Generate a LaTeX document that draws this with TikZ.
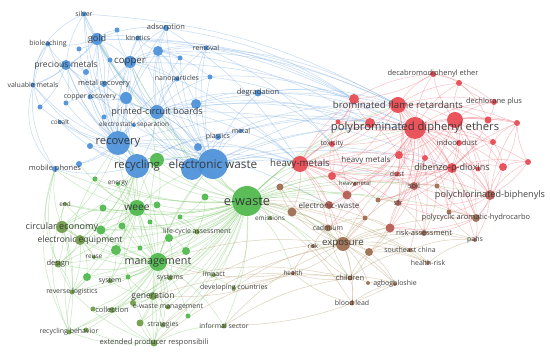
\documentclass[tikz,border=0pt]{standalone}
\usepackage{fontspec}
\setmainfont{Open Sans}
\pgfdeclarelayer{bg}
\pgfdeclarelayer{fg}
\pgfsetlayers{bg,main,fg}
\definecolor{cB}{HTML}{4A90D9}
\definecolor{cG}{HTML}{4CB84A}
\definecolor{cO}{HTML}{6E9A45}
\definecolor{cR}{HTML}{E8474F}
\definecolor{cN}{HTML}{9C6B4E}
\definecolor{cRB}{HTML}{B65A4F}
\definecolor{eB}{HTML}{74A9E2}
\definecolor{eG}{HTML}{7CC86A}
\definecolor{eR}{HTML}{EC7078}
\definecolor{eN}{HTML}{BDA67C}
\definecolor{txt}{HTML}{2E2E2E}
\tikzset{
  vnode/.style={circle,inner sep=0pt,fill opacity=0.92},
  lbl/.style={inner sep=0pt,text=txt,text opacity=0.9},
  edgeB/.style={draw=eB,line width=0.5pt,opacity=0.42},
  edgeG/.style={draw=eG,line width=0.5pt,opacity=0.42},
  edgeR/.style={draw=eR,line width=0.5pt,opacity=0.42},
  edgeN/.style={draw=eN,line width=0.5pt,opacity=0.5},
}
\newcommand\vn[7]{%
  \node[vnode,fill=#5,minimum size=#4pt] (#1) at (#2,#3) {};
  \pgfmathsetmacro\kwfs{#6*1.07}%
  \begin{pgfonlayer}{fg}\node[lbl,font=\fontsize{\kwfs}{\kwfs}\selectfont] (#1-l) at (#2,#3) {#7};\end{pgfonlayer}}
\newcommand\un[5]{\node[vnode,fill=#5,minimum size=#4pt] (#1) at (#2,#3) {};}
\begin{document}
\begin{tikzpicture}[x=1pt,y=-1pt]
\useasboundingbox (0,0) rectangle (550,355);
\begin{pgfonlayer}{bg}
\fill[white] (0,0) rectangle (550,355);
\end{pgfonlayer}
% ---------- blue cluster
\vn{silver}{84}{14}{5}{cB}{6.5}{silver}
\vn{adsorption}{166}{28}{6}{cB}{7}{adsorption}
\vn{bioleach}{48}{44}{5}{cB}{6.5}{bioleaching}
\vn{gold}{97}{39}{12}{cB}{8.5}{gold}
\vn{kinetics}{138}{38}{5}{cB}{6.5}{kinetics}
\vn{removal}{206}{48}{5}{cB}{6.5}{removal}
\un{b1}{117}{30}{5}{cB}
\un{b2}{158}{51}{10}{cB}
\un{b3}{79}{49}{5}{cB}
\vn{copper}{130}{62}{12}{cB}{9}{copper}
\vn{precious}{66}{65}{10}{cB}{8}{precious metals}
\un{b4}{110}{60}{5}{cB}
\un{b5}{86}{72}{6}{cB}
\un{b6}{180}{58}{5}{cB}
\vn{valuable}{33}{85}{5}{cB}{6.5}{valuable metals}
\vn{metalrec}{104}{84}{6}{cB}{7}{metal recovery}
\vn{nano}{177}{79}{5}{cB}{6.5}{nanoparticles}
\un{b7}{210}{77}{5}{cB}
\vn{degrad}{258}{93}{7}{cB}{7}{degradation}
\vn{copperrec}{90}{97}{5}{cB}{6.5}{copper recovery}
\un{b8}{126}{98}{12}{cB}
\un{b9}{196}{104}{10}{cB}
\un{b10}{40}{107}{5}{cB}
\un{b11}{66}{103}{5}{cB}
\vn{pcb}{157}{112}{14}{cB}{8.5}{printed-circuit boards}
\vn{cobalt}{60}{122}{4}{cB}{6}{cobalt}
\un{b12}{104}{117}{5}{cB}
\vn{electrostatic}{134}{125}{4}{cB}{6}{electrostatic separation}
\vn{metal}{241}{131}{4}{cB}{6.5}{metal}
\vn{plastics}{218}{137}{6}{cB}{6.5}{plastics}
\vn{recovery}{118}{143}{24}{cB}{10.5}{recovery}
\un{b13}{90}{146}{6}{cB}
\un{b14}{198}{147}{8}{cB}
\un{b16}{79}{164}{6}{cB}
\vn{mobile}{55}{169}{6}{cB}{7}{mobile phones}
\un{b15}{192}{169}{22}{cB}
\vn{recycling}{137}{166}{24}{cB}{10.5}{recycling}
\vn{ewaste2}{213}{164}{30}{cB}{11}{electronic waste}
% ---------- green cluster
\un{g1}{157}{160}{14}{cG}
\un{g2}{95}{179}{5}{cG}
\vn{energy}{118}{184}{4}{cG}{6}{energy}
\vn{end}{65}{204}{4}{cO}{6}{end}
\vn{ewaste}{247}{201}{30}{cG}{12}{e-waste}
\vn{emissions}{270}{218}{4}{cO}{6}{emissions}
\vn{weee}{137}{208}{16}{cG}{9.5}{weee}
\un{g3}{103}{208}{7}{cG}
\un{g4}{157}{205}{7}{cG}
\un{g5}{180}{217}{5}{cG}
\un{g6}{205}{197}{7}{cG}
\vn{circular}{62}{227}{12}{cO}{8.5}{circular economy}
\un{g7}{101}{230}{9}{cG}
\un{g8}{122}{226}{7}{cG}
\un{g9}{150}{222}{5}{cG}
\vn{lca}{197}{232}{5}{cO}{6.5}{life-cycle assessment}
\vn{eequip}{80}{240}{10}{cO}{8}{electronic equipment}
\un{g10}{169}{238}{8}{cG}
\un{g11}{116}{250}{10}{cG}
\un{g12}{140}{248}{5}{cG}
\un{g13}{186}{251}{8}{cG}
\vn{reuse}{94}{257}{4}{cO}{6}{reuse}
\vn{management}{158}{262}{18}{cG}{10}{management}
\vn{design}{58}{264}{7}{cO}{7}{design}
\un{g14}{87}{277}{8}{cG}
\un{g15}{128}{277}{5}{cG}
\vn{system}{110}{281}{5}{cO}{6.5}{system}
\vn{systems}{170}{278}{5}{cO}{6.5}{systems}
\vn{impact}{214}{275}{4}{cO}{6.5}{impact}
\vn{developing}{234}{288}{4}{cO}{6.5}{developing countries}
\vn{reverse}{72}{292}{5}{cO}{6.5}{reverse logistics}
\vn{generation}{153}{296}{8}{cO}{8}{generation}
\un{g16}{93}{309}{5}{cO}
\vn{collection}{112}{310}{6}{cO}{7}{collection}
\un{g17}{133}{303}{6}{cO}
\vn{ewm}{168}{307}{5}{cO}{6.5}{e-waste management}
\un{g18}{188}{316}{5}{cG}
\un{g19}{140}{323}{7}{cO}
\vn{strategies}{163}{325}{5}{cO}{6.5}{strategies}
\vn{informal}{224}{326}{5}{cO}{6.5}{informal sector}
\un{g20}{86}{330}{5}{cO}
\vn{recbeh}{69}{332}{5}{cO}{6.5}{recycling behavior}
\vn{epr}{154}{343}{7}{cO}{7}{extended producer responsibili}
% ---------- red cluster
\vn{deca}{433}{74}{6}{cR}{7}{decabromodiphenyl ether}
\un{r1}{459}{83}{6}{cR}
\un{r2}{354}{99}{10}{cR}
\vn{bfr}{398}{105}{16}{cR}{9}{brominated flame retardants}
\vn{dechlorane}{494}{102}{6}{cR}{7}{dechlorane plus}
\un{r3}{338}{122}{5}{cR}
\un{r4}{370}{123}{10}{cR}
\un{r5}{455}{120}{16}{cR}
\un{r6}{488}{120}{7}{cR}
\un{r7}{517}{123}{6}{cR}
\vn{pbde}{415}{128}{22}{cR}{10.5}{polybrominated diphenyl ethers}
\vn{toxicity}{332}{144}{6}{cR}{6.5}{toxicity}
\un{indoorn}{459}{143}{6}{cR}
\vn{indoor}{457}{143}{0.1}{cR}{7}{indoor dust}
\un{r8}{493}{142}{6}{cR}
\un{r9}{399}{155}{8}{cR}
\un{r10}{425}{158}{6}{cR}
\vn{hm2}{366}{160}{0.1}{cR}{7.5}{heavy metals}
\vn{heavymetals}{300}{164}{16}{cR}{9}{heavy-metals}
\un{r11}{332}{176}{8}{cR}
\vn{dust}{397}{174}{5}{cR}{6.5}{dust}
\vn{dioxins}{452}{168}{10}{cR}{8.5}{dibenzo-p-dioxins}
\un{r12}{478}{169}{5}{cR}
\un{r13}{503}{167}{8}{cR}
\un{r14}{528}{162}{6}{cR}
\vn{heavymetal}{355}{184}{4}{cRB}{5.5}{heavymetal}
\vn{soil}{414}{186}{8}{cRB}{7}{soil}
\un{r15}{437}{186}{5}{cN}
\un{r16}{280}{187}{7}{cN}
\vn{pcbs}{490}{195}{10}{cRB}{8.5}{polychlorinated-biphenyls}
\un{r17}{347}{195}{9}{cRB}
\un{r19}{378}{200}{5}{cN}
\vn{sfr}{398}{203}{6}{cRB}{6.5}{sfr}
\un{r20}{449}{212}{5}{cN}
\vn{ewaste3}{329}{205}{8}{cRB}{7.5}{electronic-waste}
\un{r18}{292}{212}{9}{cN}
\vn{pah}{476}{218}{8}{cN}{7}{polycyclic aromatic-hydrocarbo}
\un{r21}{365}{218}{5}{cN}
\vn{cadmium}{328}{228}{7}{cN}{6.5}{cadmium}
\un{r23}{390}{228}{9}{cRB}
\vn{riskass}{424}{233}{6}{cN}{7}{risk-assessment}
\vn{exposure}{343}{244}{14}{cN}{9}{exposure}
\vn{risk}{313}{246}{4}{cN}{6}{risk}
\vn{pahs}{475}{240}{4}{cN}{6.5}{pahs}
\un{r25}{369}{252}{8}{cN}
\vn{seschina}{410}{250}{4}{cN}{6.5}{southeast china}
\vn{healthrisk}{428}{263}{4}{cN}{6.5}{health-risk}
\vn{health}{293}{273}{4}{cN}{6}{health}
\vn{children}{350}{278}{5}{cN}{7}{children}
\un{r26}{368}{283}{4}{cN}
\vn{agbog}{395}{284}{4}{cN}{6.5}{agbogbloshie}
\vn{bloodlead}{352}{303}{5}{cN}{6.5}{blood lead}
% ---------- edges
\begin{pgfonlayer}{bg}
\foreach \a/\b in {recovery/gold,recovery/copper,recovery/precious,recovery/metalrec,recovery/copperrec,recovery/b8,recovery/pcb,recovery/cobalt,recovery/electrostatic,recovery/b12,recovery/b13,recovery/mobile,recovery/b16,recovery/valuable,recovery/b10,recovery/b11,recovery/silver,recovery/bioleach,recovery/b3,recovery/b4,recovery/b5,recovery/recycling,recovery/ewaste2,recovery/b15,recovery/kinetics,recovery/adsorption,recovery/nano,recovery/b2,
pcb/gold,pcb/copper,pcb/b8,pcb/b9,pcb/metalrec,pcb/b2,pcb/nano,pcb/b6,pcb/removal,pcb/adsorption,pcb/b7,pcb/plastics,pcb/metal,pcb/ewaste2,pcb/b15,pcb/recycling,pcb/electrostatic,pcb/degrad,pcb/b14,pcb/silver,pcb/precious,
recycling/gold,recycling/copper,recycling/precious,recycling/b8,recycling/plastics,recycling/metal,recycling/mobile,recycling/cobalt,recycling/b13,recycling/ewaste2,recycling/b15,recycling/silver,recycling/valuable,
ewaste2/b2,ewaste2/b9,ewaste2/removal,ewaste2/degrad,ewaste2/b7,ewaste2/adsorption,ewaste2/b6,ewaste2/plastics,ewaste2/metal,ewaste2/copper,ewaste2/gold,ewaste2/silver,ewaste2/precious,ewaste2/b14,ewaste2/kinetics,
b15/gold,b15/copper,b15/b8,b15/b2,b15/plastics,b15/metal,
gold/silver,gold/bioleach,gold/b1,gold/kinetics,gold/precious,gold/copper,gold/b3,gold/b4,gold/b5,gold/metalrec,gold/valuable,gold/copperrec,gold/adsorption,
copper/b1,copper/kinetics,copper/adsorption,copper/b2,copper/b4,copper/metalrec,copper/nano,copper/b6,copper/b8,copper/b11,copper/removal,
precious/valuable,precious/b5,precious/b10,precious/b11,precious/bioleach,precious/copperrec,precious/silver,
b2/adsorption,b2/removal,b2/kinetics,b2/nano,b2/b6,b2/b7,b2/b9,b8/metalrec,b8/copperrec,b8/b12,b9/degrad,b9/removal,
ewaste2/bfr,ewaste2/pbde,pcb/bfr,pcb/pbde,recovery/heavymetals,gold/r2,removal/r2,degrad/bfr,degrad/pbde,b9/heavymetals,ewaste2/heavymetals,recycling/heavymetals,ewaste2/dioxins,pcb/r4,copper/heavymetals,adsorption/heavymetals,removal/toxicity,b2/r4,silver/bfr,recovery/ewaste3,
gold/bfr,copper/pbde,recovery/pbde,b2/bfr,adsorption/r2,kinetics/r2,b9/r4,degrad/r2,degrad/toxicity,plastics/bfr,plastics/pbde,metal/heavymetals,metal/r4,ewaste2/r9,ewaste2/soil,pcb/dioxins,b14/heavymetals,b15/pbde,removal/bfr,b7/r3,nano/r2}
  \draw[edgeB] (\a) to[bend left=12] (\b);
\foreach \a/\b in {valuable/mobile,bioleach/mobile,silver/valuable,bioleach/b10}
  \draw[edgeB] (\a) to[bend right=30] (\b);
\foreach \a/\b in {ewaste/weee,ewaste/management,ewaste/g1,ewaste/g4,ewaste/g5,ewaste/g6,ewaste/lca,ewaste/g10,ewaste/g13,ewaste/systems,ewaste/impact,ewaste/developing,ewaste/informal,ewaste/emissions,ewaste/generation,ewaste/ewm,ewaste/strategies,ewaste/epr,ewaste/circular,ewaste/eequip,ewaste/recycling,ewaste/ewaste2,ewaste/b15,ewaste/heavymetals,ewaste/r16,ewaste/r18,ewaste/ewaste3,ewaste/exposure,ewaste/pbde,ewaste/bfr,ewaste/dioxins,ewaste/pcbs,ewaste/cadmium,ewaste/health,ewaste/children,ewaste/risk,ewaste/toxicity,ewaste/r11,ewaste/soil,ewaste/sfr,ewaste/pah,ewaste/energy,ewaste/g3,ewaste/design,ewaste/reverse,ewaste/collection,ewaste/recbeh,ewaste/recovery,ewaste/pcb,ewaste/gold,ewaste/copper,ewaste/mobile,ewaste/r17,ewaste/dust,ewaste/r4,
management/weee,management/circular,management/eequip,management/g7,management/g8,management/g9,management/g10,management/g11,management/g12,management/g13,management/reuse,management/design,management/g14,management/g15,management/system,management/systems,management/impact,management/developing,management/reverse,management/generation,management/collection,management/g16,management/g17,management/ewm,management/g18,management/strategies,management/g19,management/informal,management/recbeh,management/g20,management/epr,management/lca,management/recycling,management/ewaste2,management/g1,
weee/g1,weee/g3,weee/g4,weee/energy,weee/g2,weee/end,weee/circular,weee/eequip,weee/g7,weee/g8,weee/g9,weee/g11,weee/recycling,weee/recovery,weee/ewaste2,weee/mobile,weee/b16,weee/lca,weee/reverse,weee/design,
g1/recycling,g1/ewaste2,g1/recovery,g1/g4,g1/energy,g1/pcb,
circular/end,circular/design,circular/eequip,circular/reverse,circular/g7,circular/reuse,circular/recbeh,circular/g3,circular/mobile,
eequip/design,eequip/reuse,eequip/g14,eequip/reverse,eequip/g11,
generation/collection,generation/ewm,generation/strategies,generation/epr,generation/g17,generation/g19,generation/system,generation/g15,
epr/recbeh,epr/g20,epr/collection,epr/strategies,epr/informal,epr/g19,epr/reverse,
g13/lca,g10/systems,g11/system,g14/reverse,g16/collection,recbeh/g20,recbeh/reverse,design/reverse,
weee/g10,weee/g12,weee/generation,weee/system,g7/g11,g8/g12,g3/eequip,g4/g10,g9/g13,g5/lca,g6/lca,g6/g5,recycling/circular,recycling/design,recycling/reverse,recycling/eequip,recovery/circular,recycling/g7,recycling/g11,recycling/management,management/energy,management/end,ewaste/g2,ewaste/end,ewaste/g7,ewaste/g8,ewaste/g11,ewaste/g14,ewaste/g17,ewaste/g19,ewaste/g18}
  \draw[edgeG] (\a) to[bend left=12] (\b);
\foreach \a/\b in {recbeh/mobile,reverse/mobile,design/mobile,recbeh/recovery,epr/recycling,recbeh/end,epr/ewaste2}
  \draw[edgeG] (\a) to[bend left=22] (\b);
\foreach \a/\b in {pbde/bfr,pbde/deca,pbde/r1,pbde/dechlorane,pbde/r5,pbde/r6,pbde/r7,pbde/indoorn,pbde/r8,pbde/dioxins,pbde/r12,pbde/r13,pbde/r14,pbde/pcbs,pbde/pah,pbde/r2,pbde/r3,pbde/r4,pbde/toxicity,pbde/heavymetals,pbde/r9,pbde/r10,pbde/dust,pbde/soil,pbde/sfr,pbde/r19,pbde/r20,pbde/r11,pbde/r17,pbde/ewaste3,pbde/exposure,pbde/riskass,pbde/pahs,pbde/r23,
bfr/deca,bfr/r1,bfr/dechlorane,bfr/r2,bfr/r4,bfr/r5,bfr/r6,bfr/indoorn,bfr/r9,bfr/dust,bfr/r3,bfr/heavymetals,bfr/r7,bfr/dioxins,
r5/deca,r5/r1,r5/dechlorane,r5/r6,r5/r7,r5/indoorn,r5/r8,r5/r13,r5/dioxins,r5/pcbs,
dioxins/r12,dioxins/r13,dioxins/r14,dioxins/pcbs,dioxins/pah,dioxins/soil,dioxins/r20,dioxins/r15,dioxins/dust,dioxins/r10,dioxins/r7,dioxins/r8,dioxins/r9,
heavymetals/toxicity,heavymetals/r3,heavymetals/r11,heavymetals/r9,heavymetals/r16,heavymetals/r17,heavymetals/ewaste3,heavymetals/r18,heavymetals/cadmium,heavymetals/exposure,heavymetals/soil,heavymetals/dust,heavymetals/r2,heavymetals/r4,heavymetals/heavymetal,
pcbs/r13,pcbs/r14,pcbs/pah,pcbs/pahs,pcbs/r15,pcbs/r20,pcbs/soil,pcbs/sfr,pcbs/r8,pcbs/r7,
pah/pahs,pah/riskass,pah/soil,pah/sfr,pah/r23,pah/r15,
soil/sfr,soil/r19,soil/r15,soil/r23,soil/riskass,soil/seschina,soil/dust,soil/r10,
r17/ewaste3,r17/cadmium,r17/r21,r17/r11,r17/heavymetal,r9/r10,r9/dust,r4/r3,r4/r2,r4/toxicity,r11/toxicity,r11/dust,deca/r1,dechlorane/r1,dechlorane/r6,r6/r7,r8/r7,r13/r14,r23/sfr,r23/riskass,
r2/r3,r2/toxicity,r2/deca,r4/r9,bfr/r10,bfr/r11,r5/r12,r5/r10,r5/r9,indoorn/r8,indoorn/dioxins,r9/soil,r10/soil,dust/sfr,r11/r17,heavymetal/soil,heavymetal/dust,r19/sfr,r20/pah,r15/r20,deca/dechlorane,deca/r2,r1/r6,r14/r7,r13/pah,r12/pcbs,pbde/heavymetal,pbde/r15,pbde/cadmium,bfr/soil,bfr/sfr,bfr/pcbs,bfr/pah,dioxins/heavymetals,dioxins/r11,dioxins/sfr,dioxins/r19,r5/soil,r5/pah,r6/dioxins,r7/r13,r14/pcbs,r8/r13,indoorn/soil,r10/sfr,toxicity/r11,toxicity/r17,heavymetals/r19,heavymetals/sfr,heavymetals/r21,heavymetals/pcbs,r2/heavymetals}
  \draw[edgeR] (\a) to[bend left=12] (\b);
\foreach \a/\b in {exposure/children,exposure/health,exposure/risk,exposure/bloodlead,exposure/agbog,exposure/r26,exposure/healthrisk,exposure/seschina,exposure/pahs,exposure/riskass,exposure/cadmium,exposure/r25,exposure/r23,exposure/r18,exposure/ewaste3,exposure/r16,exposure/soil,exposure/dust,exposure/pah,exposure/r21,
children/bloodlead,children/agbog,children/health,children/r26,children/r25,children/risk,children/cadmium,
r25/seschina,r25/healthrisk,r25/agbog,r25/riskass,seschina/healthrisk,seschina/pahs,healthrisk/pahs,riskass/pahs,
health/management,health/generation,informal/exposure,developing/children,informal/children,developing/exposure,impact/exposure,bloodlead/health,agbog/informal,health/risk,ewaste/agbog,ewaste/bloodlead,ewaste/healthrisk,ewaste/seschina,ewaste/r25,ewaste/r23,epr/health,strategies/exposure,
r18/r16,r18/ewaste3,r18/cadmium,r16/ewaste3,cadmium/r21,r21/r23,r23/r25,r25/children,sfr/riskass,sfr/r25,pahs/r20,r15/riskass,risk/cadmium,children/seschina,bloodlead/agbog,r26/agbog,management/exposure,systems/children,generation/children}
  \draw[edgeN] (\a) to[bend left=12] (\b);
\end{pgfonlayer}
\end{tikzpicture}
\end{document}
